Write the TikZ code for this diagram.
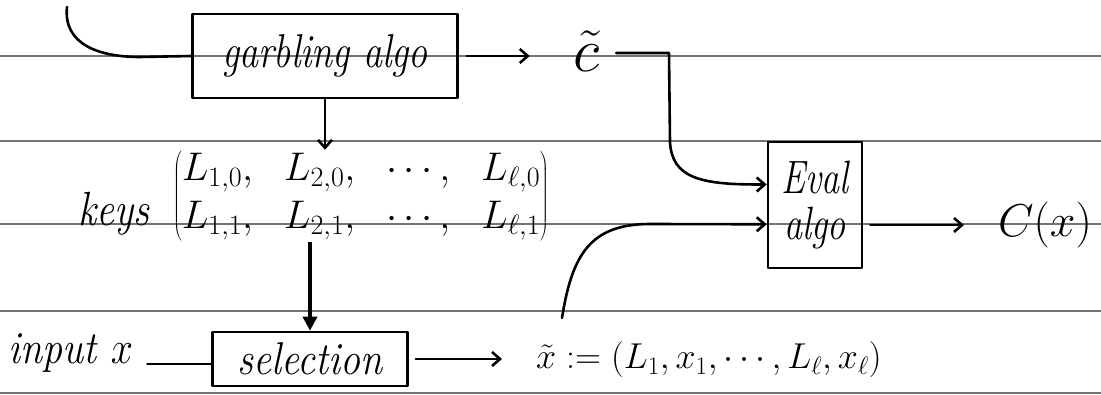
\RequirePackage{fix-cm}
\documentclass[tikz,border=0pt]{standalone}
\usepackage{graphicx}
\usetikzlibrary{arrows.meta,calc}
\begin{document}
\begin{tikzpicture}[x=1pt,y=1pt,
  stroke/.style={line width=2.6pt, line cap=round, line join=round},
  rule/.style={line width=1.2pt, black!55},
  box/.style={draw, line width=2.6pt, line join=round, rectangle, inner sep=0pt},
  hand/.style={font=\fontsize{40}{46}\selectfont\itshape, inner sep=0pt},
  mtxt/.style={inner sep=0pt},
  arr/.style={stroke, -{Straight Barb[length=8pt,width=14pt]}}]
\useasboundingbox (0,0) rectangle (1101,-395);
\fill[white] (0,0) rectangle (1101,-395);
% notebook rules
\foreach \yy in {56,141,224,311,393} \draw[rule] (0,-\yy) -- (1101,-\yy);

% nodes
\node[box, hand, minimum width=265pt, minimum height=84pt, font=\fontsize{38}{44}\selectfont\itshape] (garb) at (325,-56) {\scalebox{1}[1.25]{garbling algo}};
\node[mtxt, anchor=base, font=\fontsize{62}{62}\selectfont] (ct) at (587,-72) {$\tilde{c}$};
\node[hand, anchor=base] (keys) at (114,-226) {\scalebox{1}[1.2]{keys}};
\node[mtxt, font=\fontsize{40}{44}\selectfont] (mat) at (361,-196)
  {$\left(\begin{array}{@{}l@{}} L_{1,0},\ \ L_{2,0},\ \ \cdots,\ \ L_{\ell,0}\\[4pt] L_{1,1},\ \ L_{2,1},\ \ \cdots,\ \ L_{\ell,1}\end{array}\right)$};
\node[box, hand, minimum width=94pt, minimum height=126pt, align=center, font=\fontsize{36}{44}\selectfont\itshape] (eval) at (815,-205) {\scalebox{1}[1.3]{Eval}\\[2pt]\scalebox{1}[1.3]{algo}};
\node[mtxt, font=\fontsize{46}{48}\selectfont] (cx) at (1045,-225) {$C(x)$};
\node[box, hand, minimum width=195pt, minimum height=54pt] (sel) at (310,-359) {\scalebox{1}[1.15]{selection}};
\node[hand, anchor=base] (inp) at (71,-364) {\scalebox{1}[1.15]{input $x$}};
\node[mtxt, anchor=west, font=\fontsize{36}{40}\selectfont] (xt) at (536,-360) {$\tilde{x} := (L_{1}, x_{1}, \cdots, L_{\ell}, x_{\ell})$};

% coordinates
\coordinate (cin) at (67,-7);
\coordinate (ein1) at ($(eval.north west)!0.34!(eval.south west)$);
\coordinate (ein2) at ($(eval.north west)!0.65!(eval.south west)$);
\coordinate (xtop) at (562,-318);
\coordinate (cturn) at (669,-53);

% connectors
\draw[stroke] (cin) .. controls (63,-45) and (100,-57) .. (140,-57) -- (garb.west);
\draw[arr, shorten <=8pt, shorten >=44pt] (garb.east) -- (garb.east -| ct.west);
\draw[arr] (ct.east |- cturn) ++(16,0) -- (cturn) -- (670,-142) .. controls (672,-178) and (700,-185) .. (ein1);
\draw[arr] (garb.south) -- (garb.south |- mat.north);
\draw[line width=4pt, -{Triangle[length=14pt,width=14pt]}] (mat.south -| sel.north) -- (sel.north);
\draw[stroke, shorten <=14pt] (inp.base east) -- (inp.base east -| sel.west);
\draw[arr, shorten <=7pt, shorten >=34pt] (sel.east) -- (sel.east -| xt.west);
\draw[arr] (xtop) .. controls (572,-255) and (590,-224) .. (650,-224) -- (ein2);
\draw[arr, shorten <=7pt, shorten >=34pt] (eval.east |- cx.west) -- (cx.west);
\end{tikzpicture}
\end{document}
